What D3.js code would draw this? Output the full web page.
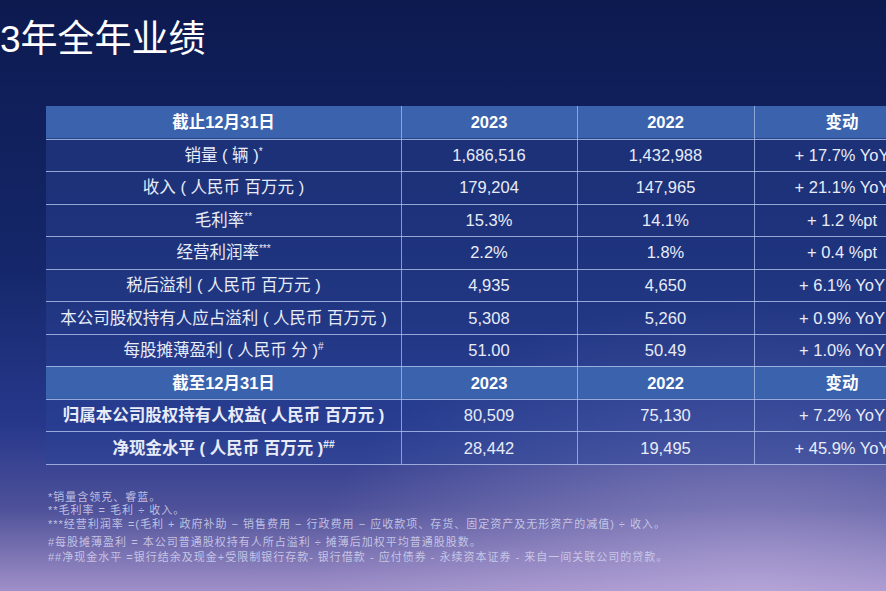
<!DOCTYPE html>
<html>
<head>
<meta charset="utf-8">
<script src="https://cdn.jsdelivr.net/npm/d3@7"></script>
<style>
  html, body { margin: 0; padding: 0; background: #0e1b52; overflow: hidden; }
  svg { display: block; font-family: "Liberation Sans", "Noto Sans CJK SC", sans-serif; }
</style>
</head>
<body>
<div id="chart"></div>
<script>
var title = '3年全年业绩';

var header1 = ['截止12月31日', '2023', '2022', '变动'],
    header2 = ['截至12月31日', '2023', '2022', '变动'];

var rowLabels = ['销量 ( 辆 )', '收入 ( 人民币  百万元 )', '毛利率', '经营利润率',
                 '税后溢利 ( 人民币  百万元 )', '本公司股权持有人应占溢利 ( 人民币  百万元 )',
                 '每股摊薄盈利 ( 人民币  分 )'],
    rowMarks = ['*', '', '**', '***', '', '', '#'],
    values2023 = ['1,686,516', '179,204', '15.3%', '2.2%', '4,935', '5,308', '51.00'],
    values2022 = ['1,432,988', '147,965', '14.1%', '1.8%', '4,650', '5,260', '50.49'],
    changes = ['+ 17.7% YoY', '+ 21.1% YoY', '+ 1.2 %pt', '+ 0.4 %pt',
               '+ 6.1% YoY', '+ 0.9% YoY', '+ 1.0% YoY'];

var rowLabels2 = ['归属本公司股权持有人权益( 人民币  百万元 )', '净现金水平 ( 人民币  百万元 )'],
    rowMarks2 = ['', '##'],
    values2023b = ['80,509', '28,442'],
    values2022b = ['75,130', '19,495'],
    changes2 = ['+ 7.2% YoY', '+ 45.9% YoY'];

var footnotes = [
  '*销量含领克、睿蓝。',
  '**毛利率 = 毛利 ÷ 收入。',
  '***经营利润率 =(毛利 + 政府补助  −  销售费用  −  行政费用  −  应收款项、存货、固定资产及无形资产的减值)  ÷ 收入。',
  '#每股摊薄盈利 = 本公司普通股权持有人所占溢利 ÷ 摊薄后加权平均普通股股数。',
  '##净现金水平 =银行结余及现金+受限制银行存款- 银行借款 - 应付债券 - 永续资本证券 - 来自一间关联公司的贷款。'
];
var footY = [501, 514, 528, 546, 561];

var colWeights = [355, 176, 177, 176];

var width = 886, height = 591;

var svg = d3.select('#chart').append('svg')
    .attr('width', width)
    .attr('height', height);

var defs = svg.append('defs');
var bg = defs.append('linearGradient')
    .attr('id', 'bg').attr('x1', 0).attr('y1', 0).attr('x2', 0).attr('y2', 1);
bg.append('stop').attr('offset', '0%').attr('stop-color', '#0d1a50');
bg.append('stop').attr('offset', '45%').attr('stop-color', '#15276a');
bg.append('stop').attr('offset', '72%').attr('stop-color', '#27388c');
bg.append('stop').attr('offset', '86%').attr('stop-color', '#4e5199');
bg.append('stop').attr('offset', '100%').attr('stop-color', '#a08fc8');

var glow = defs.append('radialGradient')
    .attr('id', 'glow').attr('cx', '85%').attr('cy', '100%').attr('r', '50%');
glow.append('stop').attr('offset', '0%').attr('stop-color', '#c8b8e6').attr('stop-opacity', 0.5);
glow.append('stop').attr('offset', '100%').attr('stop-color', '#c8b8e6').attr('stop-opacity', 0);

svg.append('rect').attr('width', width).attr('height', height).attr('fill', 'url(#bg)');
svg.append('rect').attr('width', width).attr('height', height).attr('fill', 'url(#glow)');

// title
svg.append('text')
    .attr('x', 0).attr('y', 52)
    .attr('fill', '#ffffff')
    .attr('font-size', 37)
    .text(title);

// build table rows
var rows = [];
rows.push({type: 'head', cells: header1});
rowLabels.forEach(function(l, i) {
  rows.push({type: 'body', cells: [l, values2023[i], values2022[i], changes[i]], mark: rowMarks[i], bold: false});
});
rows.push({type: 'head', cells: header2});
rowLabels2.forEach(function(l, i) {
  rows.push({type: 'body', cells: [l, values2023b[i], values2022b[i], changes2[i]], mark: rowMarks2[i], bold: true});
});

var y = d3.scaleBand()
    .domain(d3.range(rows.length))
    .range([106, 464]);

var edges = [0].concat(Array.from(d3.cumsum(colWeights)));
var x = d3.scaleLinear()
    .domain([0, d3.sum(colWeights)])
    .range([46, 46 + d3.sum(colWeights)]);

var table = svg.append('g');

table.selectAll('rect.row')
    .data(rows)
    .enter().append('rect')
    .attr('class', 'row')
    .attr('x', x(0))
    .attr('y', function(d, i) { return y(i); })
    .attr('width', x(edges[4]) - x(0))
    .attr('height', y.bandwidth())
    .attr('fill', function(d) { return d.type === 'head' ? '#3b62ad' : '#2a4596'; })
    .attr('fill-opacity', function(d) { return d.type === 'head' ? 1 : 0.45; });

// horizontal lines
table.selectAll('line.h')
    .data(d3.range(1, rows.length + 1))
    .enter().append('line')
    .attr('x1', x(0)).attr('x2', x(edges[4]))
    .attr('y1', function(i) { return Math.round(y(i - 1) + y.bandwidth()) + 0.5; })
    .attr('y2', function(i) { return Math.round(y(i - 1) + y.bandwidth()) + 0.5; })
    .attr('stroke', '#a9bce8')
    .attr('stroke-opacity', 0.85)
    .attr('stroke-width', 1.2);

// vertical lines
table.selectAll('line.v')
    .data([1, 2, 3])
    .enter().append('line')
    .attr('x1', function(c) { return Math.round(x(edges[c])) + 0.5; })
    .attr('x2', function(c) { return Math.round(x(edges[c])) + 0.5; })
    .attr('y1', y(0)).attr('y2', y(rows.length - 1) + y.bandwidth())
    .attr('stroke', '#a9bce8')
    .attr('stroke-opacity', 0.75)
    .attr('stroke-width', 1);

// cell text
rows.forEach(function(r, i) {
  r.cells.forEach(function(c, j) {
    var t = table.append('text')
        .attr('x', x((edges[j] + edges[j + 1]) / 2))
        .attr('y', y(i) + y.bandwidth() / 2 + 6)
        .attr('text-anchor', 'middle')
        .attr('fill', r.type === 'head' ? '#ffffff' : '#e8ecf8')
        .attr('font-size', 16.5)
        .attr('font-weight', (r.type === 'head' || (r.bold && j === 0)) ? 'bold' : 'normal')
        .text(c);
    if (j === 0 && r.mark) {
      t.append('tspan')
          .attr('font-size', 10)
          .attr('dy', -6)
          .text(r.mark);
    }
  });
});

// footnotes
svg.append('g').selectAll('text')
    .data(footnotes)
    .enter().append('text')
    .attr('x', 48)
    .attr('y', function(d, i) { return footY[i]; })
    .attr('fill', '#d4d4ee')
    .attr('fill-opacity', 0.85)
    .attr('font-size', 11)
    .attr('letter-spacing', 1)
    .text(function(d) { return d; });
</script>
</body>
</html>
